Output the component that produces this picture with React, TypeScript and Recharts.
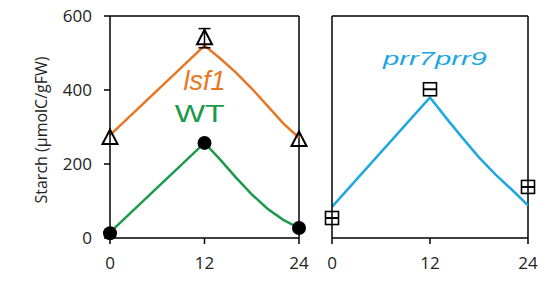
import { ComposedChart, Line, Scatter, ErrorBar, XAxis, YAxis, ReferenceLine, ReferenceDot } from "recharts";

// sampled time points (h) and measured starch (µmolC/gFW)
const sampleHours = [0, 12, 24];
const lsf1Mean = [270, 540, 265];
const lsf1Err = [0, 26, 0];
const wtMean = [13, 257, 27];
const prrMean = [54, 402, 138];
const prrErr = [1, 1, 1];

// model fit curves
const fitHours = [0, 12, 14, 16, 18, 20, 22, 24];
const lsf1Fit = [278, 520, 485, 447, 404, 357, 310, 271];
const wtFit = [15, 257, 212, 163, 118, 79, 49, 27];
const prrFit = [84, 380, 324, 270, 218, 172, 131, 88];

const hourTicks = [0, 12, 24];
const starchTicks = [0, 200, 400, 600];

const ORANGE = "#e87722";
const GREEN = "#1a9a4b";
const BLUE = "#1ea7e0";
const FONT = "'Open Sans', sans-serif";
const ARIAL = "'Liberation Sans', Arial, sans-serif";

const toPoints = (xs: number[], ys: number[], errs?: number[]) =>
  xs.map((t, i) => ({ t, v: ys[i], err: errs ? errs[i] : 0 }));

const Triangle = (p: any) => (
  <path
    d={`M${p.cx},${p.cy - 8.5}L${p.cx + 7.5},${p.cy + 6}L${p.cx - 7.5},${p.cy + 6}Z`}
    fill="none"
    stroke="#000"
    strokeWidth={2}
  />
);
const Dot = (p: any) => <circle cx={p.cx} cy={p.cy} r={7} fill="#000" />;
const Square = (p: any) => (
  <rect x={p.cx - 6.5} y={p.cy - 6.5} width={13} height={13} fill="none" stroke="#000" strokeWidth={1.6} />
);

const Tag = ({ viewBox, text, color, size, len, italic }: any) => (
  <text
    x={viewBox.x + viewBox.width / 2}
    y={viewBox.y}
    textAnchor="middle"
    fill={color}
    fontSize={size}
    fontFamily={ARIAL}
    fontStyle={italic ? "italic" : "normal"}
    textLength={len}
    lengthAdjust="spacingAndGlyphs"
  >
    {text}
  </text>
);

const YTitle = ({ viewBox }: any) => {
  const x = viewBox.x + 41;
  const y = viewBox.y + viewBox.height / 2 + 3;
  return (
    <text
      x={x}
      y={y}
      transform={`rotate(-90 ${x} ${y})`}
      textAnchor="middle"
      dominantBaseline="central"
      fontFamily={FONT}
      fontSize={16}
      fill="#222"
    >
      Starch (µmolC/gFW)
    </text>
  );
};

const axisLine = { stroke: "#000", strokeWidth: 1.5 };
const tickStyle = { fontSize: 17, fill: "#222", fontFamily: FONT };

export default function App() {
  return (
    <div style={{ position: "absolute", left: 0, top: 0, width: 550, height: 285, background: "#fff" }}>
      <div style={{ position: "absolute", left: 0, top: 0 }}>
        <ComposedChart width={310} height={285} margin={{ top: 16, right: 11, bottom: 7, left: 0 }}>
          <XAxis
            dataKey="t"
            type="number"
            domain={[0, 24]}
            ticks={hourTicks}
            axisLine={axisLine}
            tickLine={axisLine}
            tickSize={6}
            tickMargin={13}
            tick={tickStyle}
            height={40}
          />
          <YAxis
            type="number"
            domain={[0, 600]}
            ticks={starchTicks}
            width={110}
            axisLine={axisLine}
            tickLine={axisLine}
            tickSize={6}
            tickMargin={12}
            tick={tickStyle}
            label={<YTitle />}
          />
          <ReferenceLine y={600} stroke="#000" strokeWidth={1.5} />
          <ReferenceLine x={24} stroke="#000" strokeWidth={1.5} />
          <Line data={toPoints(fitHours, lsf1Fit)} dataKey="v" type="linear" stroke={ORANGE} strokeWidth={2.5} dot={false} isAnimationActive={false} />
          <Line data={toPoints(fitHours, wtFit)} dataKey="v" type="linear" stroke={GREEN} strokeWidth={2.5} dot={false} isAnimationActive={false} />
          <Scatter data={toPoints(sampleHours, lsf1Mean, lsf1Err)} dataKey="v" shape={Triangle} isAnimationActive={false}>
            <ErrorBar dataKey="err" direction="y" width={6} stroke="#000" strokeWidth={1.5} />
          </Scatter>
          <Scatter data={toPoints(sampleHours, wtMean)} dataKey="v" shape={Dot} isAnimationActive={false} />
          <ReferenceDot x={12} y={400} r={0} fill="none" stroke="none" label={<Tag text="lsf1" color={ORANGE} size={27} len={42} italic />} />
          <ReferenceDot x={11.4} y={313} r={0} fill="none" stroke="none" label={<Tag text="WT" color={GREEN} size={24} len={50} />} />
        </ComposedChart>
      </div>
      <div style={{ position: "absolute", left: 310, top: 0 }}>
        <ComposedChart width={240} height={285} margin={{ top: 16, right: 22, bottom: 7, left: 0 }}>
          <XAxis
            dataKey="t"
            type="number"
            domain={[0, 24]}
            ticks={hourTicks}
            axisLine={axisLine}
            tickLine={axisLine}
            tickSize={6}
            tickMargin={13}
            tick={tickStyle}
            height={40}
          />
          <YAxis
            type="number"
            domain={[0, 600]}
            ticks={starchTicks}
            width={22}
            axisLine={axisLine}
            tickLine={axisLine}
            tickSize={6}
            tick={false}
          />
          <ReferenceLine y={600} stroke="#000" strokeWidth={1.5} />
          <ReferenceLine x={24} stroke="#000" strokeWidth={1.5} />
          <Line data={toPoints(fitHours, prrFit)} dataKey="v" type="linear" stroke={BLUE} strokeWidth={2.5} dot={false} isAnimationActive={false} />
          <Scatter data={toPoints(sampleHours, prrMean, prrErr)} dataKey="v" shape={Square} isAnimationActive={false}>
            <ErrorBar dataKey="err" direction="y" width={6} stroke="#000" strokeWidth={1.2} />
          </Scatter>
          <ReferenceDot x={12.6} y={468} r={0} fill="none" stroke="none" label={<Tag text="prr7prr9" color={BLUE} size={19} len={104} italic />} />
        </ComposedChart>
      </div>
    </div>
  );
}
